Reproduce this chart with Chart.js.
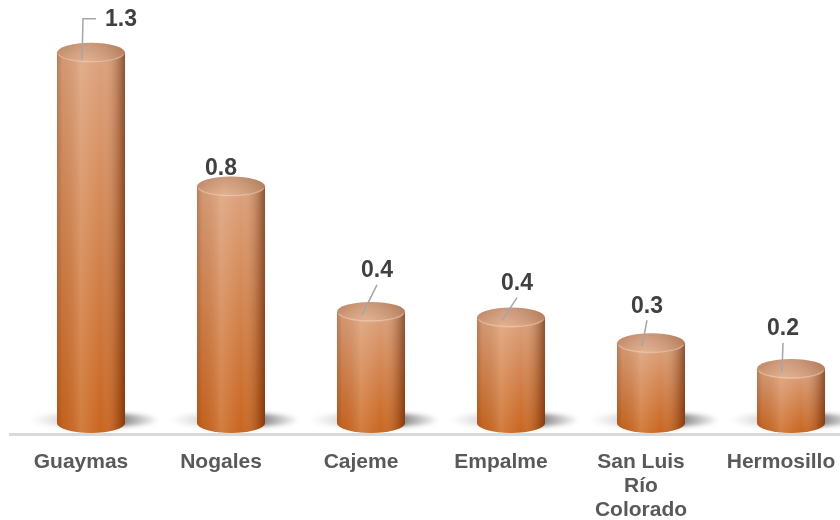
<!DOCTYPE html>
<html>
<head>
<meta charset="utf-8">
<script src="https://cdn.jsdelivr.net/npm/chart.js@4.4.0/dist/chart.umd.min.js"></script>
<style>
  html, body { margin: 0; padding: 0; background: #fff; overflow: hidden; }
  #wrap { position: relative; width: 880px; height: 520px; }
</style>
</head>
<body>
<div id="wrap"><canvas id="chart"></canvas></div>
<script>
const municipios = ['Guaymas', 'Nogales', 'Cajeme', 'Empalme', ['San Luis', 'Río', 'Colorado'], 'Hermosillo'];
const valores = [1.3, 0.83, 0.39, 0.37, 0.28, 0.19];

// where the data labels sit, relative to the top of each cylinder
const labelOffsets = [[30, -34], [-10, -19], [6, -42], [6, -35], [-4, -38], [-8, -41]];
const leaderTypes = ['elbow', null, 'straight', 'straight', 'straight', 'straight'];

const RY = 10;

function drawShadow(ctx, x, base, w) {
  const rx = w / 2;
  const left = x - rx - 28, right = x + rx + 34;
  ctx.save();
  const g = ctx.createLinearGradient(left, 0, right, 0);
  g.addColorStop(0, 'rgba(0,0,0,0)');
  g.addColorStop(0.3, 'rgba(0,0,0,0.16)');
  g.addColorStop(0.72, 'rgba(0,0,0,0.45)');
  g.addColorStop(1, 'rgba(0,0,0,0)');
  ctx.fillStyle = g;
  ctx.filter = 'blur(2px)';
  ctx.beginPath();
  ctx.ellipse((left + right) / 2, base - 3, (right - left) / 2, 7, 0, 0, Math.PI * 2);
  ctx.fill();
  ctx.restore();
}

function sideShade(ctx, left, right) {
  const hg = ctx.createLinearGradient(left, 0, right, 0);
  hg.addColorStop(0, 'rgba(110,45,10,0.30)');
  hg.addColorStop(0.08, 'rgba(110,45,10,0.08)');
  hg.addColorStop(0.35, 'rgba(255,235,210,0.18)');
  hg.addColorStop(0.65, 'rgba(255,235,210,0)');
  hg.addColorStop(0.9, 'rgba(90,30,0,0.28)');
  hg.addColorStop(1, 'rgba(70,20,0,0.55)');
  return hg;
}

function drawCylinder(ctx, x, top, base, w) {
  const rx = w / 2;
  const left = x - rx, right = x + rx;
  ctx.save();
  ctx.beginPath();
  ctx.moveTo(left, top);
  ctx.lineTo(left, base);
  ctx.ellipse(x, base, rx, RY, 0, Math.PI, 0, true);
  ctx.lineTo(right, top);
  ctx.closePath();
  const vg = ctx.createLinearGradient(0, top, 0, base + RY);
  vg.addColorStop(0, '#dba27e');
  vg.addColorStop(1, '#c9651f');
  ctx.fillStyle = vg;
  ctx.fill();
  ctx.fillStyle = sideShade(ctx, left, right);
  ctx.fill();

  // top face
  ctx.beginPath();
  ctx.ellipse(x, top, rx, RY, 0, 0, Math.PI * 2);
  const tg = ctx.createLinearGradient(0, top - RY, 0, top + RY);
  tg.addColorStop(0, '#c58e6e');
  tg.addColorStop(1, '#dfab89');
  ctx.fillStyle = tg;
  ctx.fill();
  const th = ctx.createLinearGradient(left, 0, right, 0);
  th.addColorStop(0, 'rgba(120,60,30,0.15)');
  th.addColorStop(0.4, 'rgba(255,235,215,0.12)');
  th.addColorStop(1, 'rgba(100,40,10,0.25)');
  ctx.fillStyle = th;
  ctx.fill();
  ctx.beginPath();
  ctx.ellipse(x, top, rx - 1, RY - 1, 0, 0.2, Math.PI - 0.2);
  ctx.strokeStyle = 'rgba(255,225,200,0.4)';
  ctx.lineWidth = 1.2;
  ctx.stroke();
  ctx.restore();
}

const cylinders = {
  id: 'cylinders',
  beforeDatasetsDraw(chart) {
    const ctx = chart.ctx;
    const floor = chart.chartArea.bottom;
    chart.getDatasetMeta(0).data.forEach(bar => {
      const p = bar.getProps(['x', 'base', 'width'], true);
      drawShadow(ctx, p.x, p.base, p.width);
    });
    ctx.save();
    ctx.strokeStyle = '#d9d9d9';
    ctx.lineWidth = 3;
    ctx.beginPath();
    ctx.moveTo(9, floor + 11.5);
    ctx.lineTo(chart.width, floor + 11.5);
    ctx.stroke();
    ctx.restore();
  },
  afterDatasetsDraw(chart) {
    const ctx = chart.ctx;
    const meta = chart.getDatasetMeta(0);
    meta.data.forEach(bar => {
      const p = bar.getProps(['x', 'y', 'base', 'width'], true);
      drawCylinder(ctx, p.x, p.y, p.base, p.width);
    });

    // data labels with leader lines
    ctx.save();
    ctx.font = 'bold 23px "Liberation Sans", Arial, sans-serif';
    ctx.textAlign = 'center';
    ctx.textBaseline = 'middle';
    meta.data.forEach((bar, i) => {
      const p = bar.getProps(['x', 'y'], true);
      const lx = p.x + labelOffsets[i][0];
      const ly = p.y + labelOffsets[i][1];
      ctx.strokeStyle = '#a6a6a6';
      ctx.lineWidth = 1.5;
      if (leaderTypes[i] === 'straight') {
        ctx.beginPath();
        ctx.moveTo(lx, ly + 15);
        ctx.lineTo(p.x - 9, p.y + 3);
        ctx.stroke();
      } else if (leaderTypes[i] === 'elbow') {
        ctx.beginPath();
        ctx.moveTo(p.x - 9, p.y + 7);
        ctx.lineTo(p.x - 8, ly);
        ctx.lineTo(lx - 25, ly);
        ctx.stroke();
      }
      ctx.fillStyle = '#404040';
      ctx.fillText(valores[i].toFixed(1), lx, ly + 1);
    });
    ctx.restore();
  }
};

new Chart(document.getElementById('chart'), {
  type: 'bar',
  data: {
    labels: municipios,
    datasets: [{
      data: valores,
      backgroundColor: 'rgba(0,0,0,0)',
      borderWidth: 0,
      categoryPercentage: 1,
      barPercentage: 0.486
    }]
  },
  options: {
    responsive: true,
    maintainAspectRatio: false,
    animation: false,
    layout: { padding: { left: 21, right: 19, top: 10, bottom: 0 } },
    plugins: { legend: { display: false }, tooltip: { enabled: false } },
    scales: {
      x: {
        grid: { display: false, drawTicks: false },
        border: { display: false },
        ticks: {
          color: '#595959',
          font: { family: '"Liberation Sans", Arial, sans-serif', size: 21, weight: 'bold', lineHeight: 1.14 },
          padding: 27,
          labelOffset: -10,
          maxRotation: 0,
          autoSkip: false
        },
        afterFit(scale) { scale.height = 97; }
      },
      y: { display: false, min: 0, max: 1.45 }
    }
  },
  plugins: [cylinders]
});
</script>
</body>
</html>
